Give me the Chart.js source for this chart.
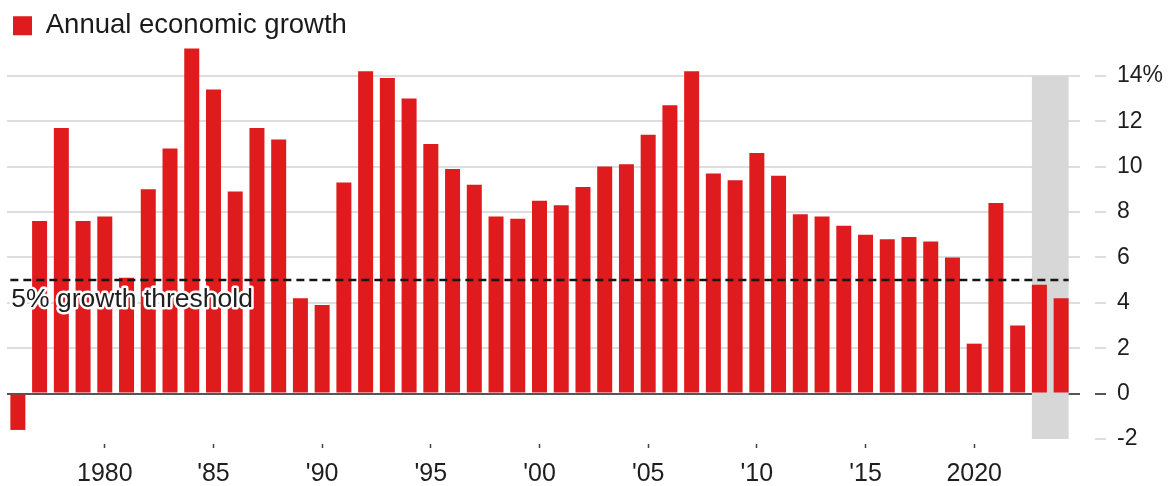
<!DOCTYPE html>
<html>
<head>
<meta charset="utf-8">
<script src="https://cdn.jsdelivr.net/npm/chart.js@4.4.1/dist/chart.umd.min.js"></script>
<style>
  html, body { margin: 0; padding: 0; background: #fff; }
  #wrap { width: 1174px; height: 486px; }
</style>
</head>
<body>
<div id="wrap"><canvas id="chart" width="1174" height="486"></canvas></div>
<script>
const years = [
  1976, 1977, 1978, 1979, 1980, 1981, 1982, 1983, 1984, 1985,
  1986, 1987, 1988, 1989, 1990, 1991, 1992, 1993, 1994, 1995,
  1996, 1997, 1998, 1999, 2000, 2001, 2002, 2003, 2004, 2005,
  2006, 2007, 2008, 2009, 2010, 2011, 2012, 2013, 2014, 2015,
  2016, 2017, 2018, 2019, 2020, 2021, 2022, 2023, 2024
];
const growth = [
  -1.6, 7.6, 11.7, 7.6, 7.8, 5.1, 9.0, 10.8, 15.2, 13.4,
  8.9, 11.7, 11.2, 4.2, 3.9, 9.3, 14.2, 13.9, 13.0, 11.0,
  9.9, 9.2, 7.8, 7.7, 8.5, 8.3, 9.1, 10.0, 10.1, 11.4,
  12.7, 14.2, 9.7, 9.4, 10.6, 9.6, 7.9, 7.8, 7.4, 7.0,
  6.8, 6.9, 6.7, 6.0, 2.2, 8.4, 3.0, 4.8, 4.2
];
const tickYears = [1980, 1985, 1990, 1995, 2000, 2005, 2010, 2015, 2020];
const tickLabels = ['1980', "'85", "'90", "'95", "'00", "'05", "'10", "'15", '2020'];
const yTicks = [-2, 0, 2, 4, 6, 8, 10, 12, 14];
const shadedYears = [2023, 2024];
const threshold = 5;
const thresholdLabel = '5% growth threshold';

const RED = '#df1b1d';
const GRID = '#dedede';
const FONT = '"Liberation Sans", Arial, sans-serif';

// grey column behind the last bars, running the full tick range
const shadePlugin = {
  id: 'shade',
  beforeDatasetsDraw(chart) {
    const { ctx } = chart;
    const meta = chart.getDatasetMeta(0);
    const y = chart.scales.y;
    const first = meta.data[years.indexOf(shadedYears[0])];
    const last = meta.data[years.indexOf(shadedYears[shadedYears.length - 1])];
    const top = y.getPixelForValue(yTicks[yTicks.length - 1]);
    const bottom = y.getPixelForValue(yTicks[0]);
    ctx.save();
    ctx.fillStyle = '#d7d7d7';
    ctx.fillRect(first.x - first.width / 2, top, (last.x + last.width / 2) - (first.x - first.width / 2), bottom - top);
    ctx.restore();
  }
};

// dashed threshold line plus its haloed label
const thresholdPlugin = {
  id: 'threshold',
  afterDatasetsDraw(chart) {
    const { ctx } = chart;
    const meta = chart.getDatasetMeta(0);
    const y = chart.scales.y.getPixelForValue(threshold);
    const first = meta.data[0];
    const last = meta.data[meta.data.length - 1];
    const x0 = first.x - first.width / 2;
    const x1 = last.x + last.width / 2;
    ctx.save();
    ctx.strokeStyle = '#151515';
    ctx.lineWidth = 2.5;
    ctx.setLineDash([8, 5]);
    ctx.beginPath();
    ctx.moveTo(x0, y);
    ctx.lineTo(x1, y);
    ctx.stroke();
    ctx.setLineDash([]);
    ctx.font = '26.5px ' + FONT;
    ctx.textBaseline = 'alphabetic';
    ctx.textAlign = 'left';
    ctx.lineJoin = 'round';
    ctx.strokeStyle = '#ffffff';
    ctx.lineWidth = 5;
    ctx.strokeText(thresholdLabel, x0 + 1, y + 27);
    ctx.fillStyle = '#1e1e1e';
    ctx.fillText(thresholdLabel, x0 + 1, y + 27);
    ctx.restore();
  }
};

new Chart(document.getElementById('chart'), {
  type: 'bar',
  data: {
    labels: years,
    datasets: [{
      label: 'Annual economic growth',
      data: growth,
      backgroundColor: RED,
      borderWidth: 0,
      barPercentage: 0.69,
      categoryPercentage: 1,
      clip: false
    }]
  },
  options: {
    responsive: false,
    animation: false,
    layout: { padding: { left: 7, right: 11, top: 6, bottom: 0 } },
    plugins: {
      tooltip: { enabled: false },
      legend: {
        position: 'top',
        align: 'start',
        labels: {
          boxWidth: 19,
          boxHeight: 19,
          padding: 6,
          color: '#1a1a1a',
          font: { family: FONT, size: 27.5 }
        }
      }
    },
    scales: {
      x: {
        border: { display: false },
        afterFit: s => { s.height = 47; },
        grid: {
          offset: false,
          drawOnChartArea: false,
          drawTicks: true,
          tickLength: 9,
          tickWidth: 1.5,
          tickBorderDash: [0, 5, 4, 0],
          tickColor: ctx => tickYears.includes(years[ctx.index]) ? '#444' : 'rgba(0,0,0,0)'
        },
        ticks: {
          autoSkip: false,
          maxRotation: 0,
          padding: 14,
          color: '#1e1e1e',
          font: { family: FONT, size: 25, lineHeight: 1 },
          callback: (v, i) => {
            const k = tickYears.indexOf(years[i]);
            return k >= 0 ? tickLabels[k] : '';
          }
        }
      },
      y: {
        position: 'right',
        min: -2,
        max: 15.16,
        border: { display: false },
        afterFit: s => { s.width = 91; },
        afterBuildTicks: s => { s.ticks = yTicks.map(v => ({ value: v })); },
        grid: {
          lineWidth: 2,
          color: ctx => ctx.tick.value === 0 ? '#555' : (ctx.tick.value === yTicks[0] ? 'rgba(0,0,0,0)' : GRID),
          tickColor: ctx => ctx.tick.value === 0 ? '#555' : GRID,
          tickWidth: 2,
          tickLength: 34,
          tickBorderDash: ctx => ctx.tick.value === yTicks[0] ? [0, 23, 11, 0] : [8, 15, 11, 0]
        },
        ticks: {
          padding: 11,
          color: '#1e1e1e',
          font: { family: FONT, size: 23 },
          callback: v => v === yTicks[yTicks.length - 1] ? v + '%' : String(v)
        }
      }
    }
  },
  plugins: [shadePlugin, thresholdPlugin]
});
</script>
</body>
</html>
